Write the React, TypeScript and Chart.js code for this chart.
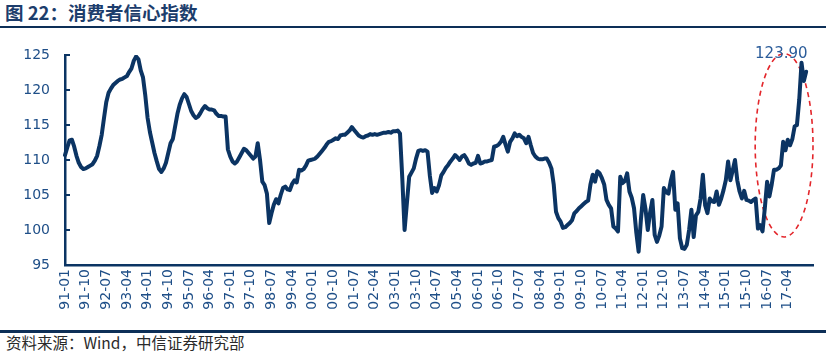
import React, { useEffect, useRef } from "react";
import { Chart, registerables } from "chart.js";
Chart.register(...registerables);

const TITLE = "图 22：消费者信心指数";
const SOURCE = "资料来源：Wind，中信证券研究部";
const PEAK_LABEL = "123.90";

const FIRST_YEAR = 1991;
const EXTRA_MONTHS = 3; // empty months after the last value (axis runs on a bit)
const TICK_EVERY = 9;
const LAST_TICK_INDEX = 315; // 17-04

const Y_MIN = 95;
const Y_MAX = 125;
const Y_STEP = 5;

// monthly consumer confidence index
const cci1991 = [110.7, 111.8, 112.8, 112.9, 111.9, 110.6, 109.6, 109.0, 108.7, 108.8, 109.0, 109.2];
const cci1992 = [109.4, 109.9, 110.6, 112.0, 113.6, 116.0, 118.3, 119.6, 120.2, 120.7, 121.0, 121.3];
const cci1993 = [121.5, 121.6, 121.8, 122.0, 122.6, 123.1, 124.2, 124.8, 124.4, 122.8, 121.8, 119.2];
const cci1994 = [116.0, 114.0, 112.5, 111.0, 109.8, 108.7, 108.3, 108.8, 109.6, 111.0, 112.4, 113.0];
const cci1995 = [114.8, 116.6, 117.9, 118.8, 119.4, 119.0, 118.0, 117.0, 116.4, 116.0, 116.2, 116.7];
const cci1996 = [117.3, 117.7, 117.4, 117.2, 117.2, 117.1, 116.6, 116.3, 116.3, 116.2, 116.2, 111.5];
const cci1997 = [110.5, 109.8, 109.5, 109.8, 110.4, 111.0, 111.6, 111.4, 111.0, 110.6, 110.2, 110.5];
const cci1998 = [112.4, 110.0, 106.9, 106.4, 105.2, 101.0, 102.4, 103.6, 104.4, 103.8, 105.0, 106.0];
const cci1999 = [106.2, 105.8, 105.7, 106.6, 107.1, 106.8, 108.6, 108.5, 108.7, 109.2, 109.9, 110.0];
const cci2000 = [110.1, 110.2, 110.5, 110.9, 111.3, 111.7, 112.2, 112.6, 112.7, 112.9, 113.1, 113.0];
const cci2001 = [113.5, 113.6, 113.6, 113.9, 114.2, 114.7, 114.3, 113.9, 113.5, 113.3, 113.2, 113.4];
const cci2002 = [113.5, 113.7, 113.6, 113.7, 113.6, 113.7, 113.8, 113.9, 113.9, 114.0, 113.9, 114.1];
const cci2003 = [114.1, 114.2, 113.8, 107.4, 100.0, 103.8, 107.6, 108.2, 108.8, 110.2, 111.3, 111.4];
const cci2004 = [111.3, 111.4, 111.2, 107.8, 105.3, 106.0, 105.5, 106.4, 107.8, 108.3, 108.9, 109.3];
const cci2005 = [109.8, 110.2, 110.7, 110.4, 110.0, 110.5, 110.7, 110.2, 109.5, 109.3, 109.5, 109.6];
const cci2006 = [110.6, 109.5, 109.6, 109.8, 109.8, 109.9, 110.0, 111.9, 112.0, 112.2, 112.6, 113.3];
const cci2007 = [112.2, 111.2, 112.6, 113.1, 113.8, 113.4, 113.6, 113.3, 113.1, 112.4, 113.3, 112.1];
const cci2008 = [111.0, 110.5, 110.2, 110.1, 110.1, 110.2, 110.2, 109.6, 108.8, 106.5, 102.6, 101.7];
const cci2009 = [101.2, 100.3, 100.4, 100.7, 101.0, 101.4, 102.4, 102.7, 103.1, 103.4, 103.7, 104.0];
const cci2010 = [104.2, 106.5, 107.9, 106.9, 108.4, 108.1, 107.4, 106.5, 104.3, 103.6, 103.1, 100.5];
const cci2011 = [100.2, 99.8, 107.6, 106.7, 107.0, 108.1, 105.5, 104.6, 103.1, 99.6, 96.9, 101.5];
const cci2012 = [105.0, 103.0, 100.0, 102.5, 104.3, 99.3, 98.3, 99.2, 100.5, 106.0, 105.4, 105.2];
const cci2013 = [107.0, 108.3, 102.9, 103.8, 98.8, 97.4, 97.3, 97.9, 100.0, 102.9, 99.0, 102.1];
const cci2014 = [102.6, 104.5, 107.9, 103.5, 102.4, 104.5, 104.1, 104.0, 105.5, 103.6, 104.5, 105.7];
const cci2015 = [107.1, 109.8, 107.1, 108.5, 110.0, 107.1, 105.5, 104.5, 105.6, 104.3, 104.2, 104.0];
const cci2016 = [104.3, 104.5, 100.2, 100.7, 99.8, 103.1, 106.9, 104.8, 106.5, 108.6, 108.6, 108.8];
const cci2017 = [109.2, 112.6, 111.4, 112.9, 112.1, 113.0, 114.8, 115.0, 118.6, 123.9, 121.3, 122.6];

const cciValues: (number | null)[] = [
  ...cci1991, ...cci1992, ...cci1993, ...cci1994, ...cci1995, ...cci1996, ...cci1997,
  ...cci1998, ...cci1999, ...cci2000, ...cci2001, ...cci2002, ...cci2003, ...cci2004,
  ...cci2005, ...cci2006, ...cci2007, ...cci2008, ...cci2009, ...cci2010, ...cci2011,
  ...cci2012, ...cci2013, ...cci2014, ...cci2015, ...cci2016, ...cci2017,
];
const LAST_YEAR_START = cciValues.length - cci2017.length;
for (let k = 0; k < EXTRA_MONTHS; k++) cciValues.push(null);

const pad2 = (n: number) => (n < 10 ? "0" + n : String(n));
const monthLabels: string[] = cciValues.map((_, i) => {
  const yy = (FIRST_YEAR + Math.floor(i / 12)) % 100;
  const mm = (i % 12) + 1;
  return `${pad2(yy)}-${pad2(mm)}`;
});

// highlighted region (data units): centre month index / value, half-widths
const ELLIPSE_CENTER_INDEX = 313.4;
const ELLIPSE_CENTER_VALUE = 112.1;
const ELLIPSE_HALF_MONTHS = 12.6;
const ELLIPSE_HALF_VALUE = 13.1;

const NAVY = "#0b3463";
const TICK_BLUE = "#1f4f88";
const FONT = "'DejaVu Sans', 'Liberation Sans', Arial, sans-serif";

const overlayPlugin = {
  id: "overlay",
  beforeDatasetsDraw(chart: any) {
    const { ctx, scales } = chart;
    const xs = scales.x;
    const ys = scales.y;
    const cx = xs.getPixelForValue(ELLIPSE_CENTER_INDEX);
    const cy = ys.getPixelForValue(ELLIPSE_CENTER_VALUE);
    const rx = xs.getPixelForValue(ELLIPSE_CENTER_INDEX + ELLIPSE_HALF_MONTHS) - cx;
    const ry = cy - ys.getPixelForValue(ELLIPSE_CENTER_VALUE + ELLIPSE_HALF_VALUE);
    ctx.save();
    ctx.strokeStyle = "#e3262b";
    ctx.lineWidth = 1.6;
    ctx.setLineDash([5, 4]);
    ctx.beginPath();
    ctx.ellipse(cx, cy, rx, ry, 0, 0, Math.PI * 2);
    ctx.stroke();
    ctx.restore();
  },
  afterDraw(chart: any) {
    const { ctx, scales, chartArea } = chart;
    const ys = scales.y;
    ctx.save();
    ctx.strokeStyle = NAVY;
    ctx.lineWidth = 2;
    for (let v = Y_MIN; v <= Y_MAX; v += Y_STEP) {
      const py = Math.round(ys.getPixelForValue(v));
      ctx.beginPath();
      ctx.moveTo(chartArea.left, py);
      ctx.lineTo(chartArea.left + 5, py);
      ctx.stroke();
    }
    // label at the maximum of the latest year
    let best = LAST_YEAR_START;
    cci2017.forEach((v, k) => {
      if (v > (cciValues[best] as number)) best = LAST_YEAR_START + k;
    });
    const pt = chart.getDatasetMeta(0).data[best];
    ctx.fillStyle = "#2b5c9a";
    ctx.font = `15px ${FONT}`;
    ctx.textAlign = "right";
    ctx.textBaseline = "alphabetic";
    ctx.fillText(PEAK_LABEL, pt.x + 6, pt.y - 5);
    ctx.restore();
  },
};

function CciChart() {
  const ref = useRef<HTMLCanvasElement | null>(null);
  useEffect(() => {
    if (!ref.current) return;
    const chart = new Chart(ref.current, {
      type: "line",
      data: {
        labels: monthLabels,
        datasets: [
          {
            data: cciValues,
            borderColor: NAVY,
            borderWidth: 4,
            borderJoinStyle: "round",
            borderCapStyle: "round",
            pointRadius: 0,
            tension: 0,
            fill: false,
            spanGaps: false,
          },
        ],
      },
      options: {
        animation: false,
        responsive: false,
        maintainAspectRatio: false,
        layout: { padding: { top: 25, right: 13, left: 0, bottom: 0 } },
        plugins: { legend: { display: false }, tooltip: { enabled: false } },
        scales: {
          x: {
            type: "category",
            offset: false,
            grid: { display: false, drawTicks: false },
            border: { display: true, color: NAVY, width: 2.5 },
            ticks: {
              autoSkip: false,
              maxRotation: 90,
              minRotation: 90,
              padding: 4,
              color: TICK_BLUE,
              font: { family: FONT, size: 14 },
              callback: (_v: any, index: number) =>
                index % TICK_EVERY === 0 && index <= LAST_TICK_INDEX ? monthLabels[index] : "",
            },
            afterFit: (s: any) => {
              s.height = 65;
              s.paddingLeft = 0;
              s.paddingRight = 0;
            },
          },
          y: {
            min: Y_MIN,
            max: Y_MAX,
            grid: { display: false, drawTicks: false },
            border: { display: true, color: NAVY, width: 2.5 },
            ticks: {
              stepSize: Y_STEP,
              padding: 15,
              color: TICK_BLUE,
              font: { family: FONT, size: 14 },
            },
            afterFit: (s: any) => {
              s.width = 65;
            },
          },
        },
      },
      plugins: [overlayPlugin],
    });
    return () => chart.destroy();
  }, []);
  return <canvas ref={ref} width={826} height={300} style={{ display: "block" }} />;
}

export default function App() {
  return (
    <div
      style={{
        position: "absolute",
        left: 0,
        top: 0,
        width: 826,
        height: 354,
        background: "#fff",
        overflow: "hidden",
      }}
    >
      <div
        style={{
          position: "absolute",
          left: 5,
          top: 2,
          fontFamily: "'Noto Sans CJK SC', sans-serif",
          fontWeight: 700,
          fontSize: 18.5,
          lineHeight: "20px",
          color: "#1c3d6c",
          whiteSpace: "nowrap",
        }}
      >
        {TITLE}
      </div>
      <div style={{ position: "absolute", left: 0, top: 26, width: 826, height: 2, background: "#0d2f57" }} />
      <div style={{ position: "absolute", left: 0, top: 30, width: 826, height: 300 }}>
        <CciChart />
      </div>
      <div style={{ position: "absolute", left: 0, top: 330, width: 826, height: 2.5, background: "#0d2f57" }} />
      <div
        style={{
          position: "absolute",
          left: 6,
          top: 334,
          fontFamily: "'Noto Sans CJK SC', sans-serif",
          fontSize: 15.5,
          lineHeight: "17px",
          color: "#2a2a2a",
          whiteSpace: "nowrap",
        }}
      >
        {SOURCE}
      </div>
    </div>
  );
}
